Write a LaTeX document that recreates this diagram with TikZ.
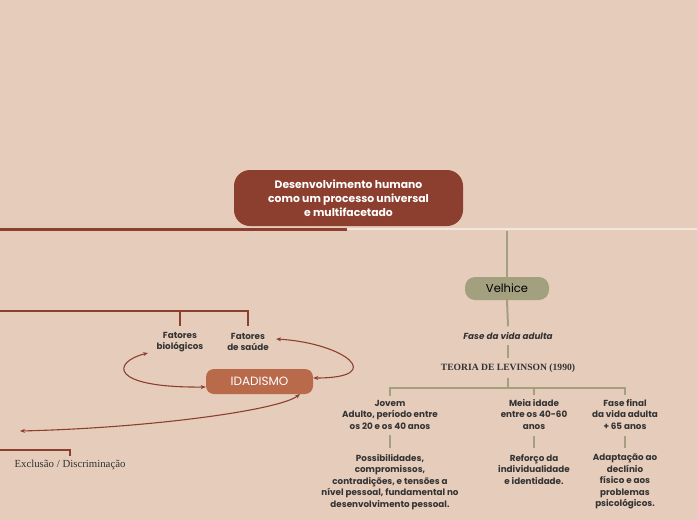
\documentclass[tikz,border=0pt]{standalone}
\usepackage{fontspec}
\setmainfont{Poppins}
\newfontfamily\serifb{Liberation Serif}
\usetikzlibrary{arrows.meta}
\definecolor{bg}{HTML}{E6CDBB}
\definecolor{brn}{HTML}{8C3F2F}
\definecolor{olv}{HTML}{A3A080}
\definecolor{idd}{HTML}{B86A4B}
\definecolor{crm}{HTML}{F3E7DC}
\definecolor{txt}{HTML}{333333}
\begin{document}
\begin{tikzpicture}[x=1pt,y=-1pt,
  lbl/.style={font=\fontsize{8.8}{11.5}\selectfont\bfseries, text=txt, align=center, inner sep=0pt},
  brline/.style={draw=brn, line width=2pt},
  olline/.style={draw=olv, line width=2pt},
  arr/.style={draw=brn, line width=1.1pt, {Stealth[length=5pt,width=4pt]}-{Stealth[length=5pt,width=4pt]}},
]
\fill[bg] (0,0) rectangle (697,520);
\useasboundingbox (0,0) rectangle (697,520);

% central node
\node[fill=brn, rounded corners=16pt, minimum width=229pt, minimum height=56pt, inner sep=0pt,
  text=white, align=center, font=\fontsize{10.8}{14}\selectfont\bfseries] (root) at (348.5,198)
  {Desenvolvimento humano\\como um processo universal\\e multifacetado};

\coordinate (hl0) at (0,229);
\coordinate (hlm) at (347,229);
\coordinate (hlr) at (697,229);
\draw[draw=crm, line width=2pt] (hlm) -- (hlr);
\draw[draw=brn, line width=3pt] (hl0) -- (hlm);

% right branch
\node[fill=olv, rounded corners=10pt, minimum width=84pt, minimum height=23pt, inner sep=0pt,
  font=\fontsize{11.5}{13}\selectfont] (vel) at (507,288.5) {Velhice};
\coordinate (velTop) at (507,231);
\draw[olline] (velTop) -- (vel.north);

\node[lbl, font=\fontsize{8.8}{10}\selectfont\bfseries\itshape] (fase) at (508,336) {Fase da vida adulta};
\draw[olline] (vel.south) -- ([yshift=6pt]fase.north);

\node[font=\serifb\fontsize{9.6}{11}\selectfont\bfseries, text=txt, inner sep=0pt] (lev) at (508,368) {TEORIA DE LEVINSON (1990)};
\draw[olline] ([yshift=-5pt]fase.south) -- ([yshift=5pt]lev.north);

\coordinate (levJ) at (508,388);
\coordinate (jL) at (390,388);
\coordinate (jM) at (534,388);
\coordinate (jR) at (625,388);
\draw[olline] ([yshift=-5pt]lev.south) -- (levJ);
\draw[olline] (jL) -- (jR);

\node[lbl] (jov) at (390,414.5) {Jovem\\Adulto, período entre\\os 20 e os 40 anos};
\node[lbl] (meia) at (534,414.5) {Meia idade\\entre os 40-60\\anos};
\node[lbl] (fin) at (625,414.5) {Fase final\\da vida adulta\\+ 65 anos};
\draw[olline] ([yshift=1pt]jL) -- ([yshift=4pt]jov.north);
\draw[olline] ([yshift=1pt]jM) -- ([yshift=4pt]meia.north);
\draw[olline] ([yshift=1pt]jR) -- ([yshift=4pt]fin.north);

\node[lbl, anchor=north] (pos) at (390,454) {Possibilidades,\\compromissos,\\contradições, e tensões a\\nível pessoal, fundamental no\\desenvolvimento pessoal.};
\node[lbl, anchor=north] (ref) at (534,454) {Reforço da\\individualidade\\e identidade.};
\node[lbl, anchor=north] (ada) at (625,454) {Adaptação ao\\declínio\\físico e aos\\problemas\\psicológicos.};
\draw[olline] ([yshift=-6pt]jov.south) -- ([yshift=6pt]pos.north);
\draw[olline] ([yshift=-6pt]meia.south) -- ([yshift=6pt]ref.north);
\draw[olline] ([yshift=-6pt]fin.south) -- ([yshift=6pt]ada.north);

% left branch
\node[lbl] (bio) at (180,342) {Fatores\\biológicos};
\node[lbl] (sau) at (248,342) {Fatores\\de saúde};
\coordinate (lt0) at (0,311);
\coordinate (ltB) at (180,311);
\coordinate (ltS) at (248,311);
\draw[brline] (lt0) -- (ltS) -- (sau.north |- 0,326);
\draw[brline] (ltB) -- (bio.north |- 0,326);

\node[fill=idd, rounded corners=8pt, minimum width=107pt, minimum height=25pt, inner sep=0pt,
  text=white, font=\fontsize{12}{13}\selectfont] (ida) at (259.5,381.5) {IDADISMO};

\draw[arr] (148,353) .. controls (112,362) and (108,388) .. (ida.west |- 0,387);
\draw[arr] (276,339) .. controls (345,343) and (388,378) .. (ida.east |- 0,378);
\coordinate (disc) at (20,431);
\draw[arr] (300,394) .. controls (280,410) and (150,428) .. (disc);

\coordinate (ex0) at (0,450);
\coordinate (exV) at (70,450);
\node[font=\serifb\fontsize{10.8}{12}\selectfont, text=txt, inner sep=0pt] (exc) at (70,465) {Exclusão / Discriminação};
\draw[brline] (ex0) -- (exV) -- (exV |- 0,456);
\end{tikzpicture}
\end{document}
